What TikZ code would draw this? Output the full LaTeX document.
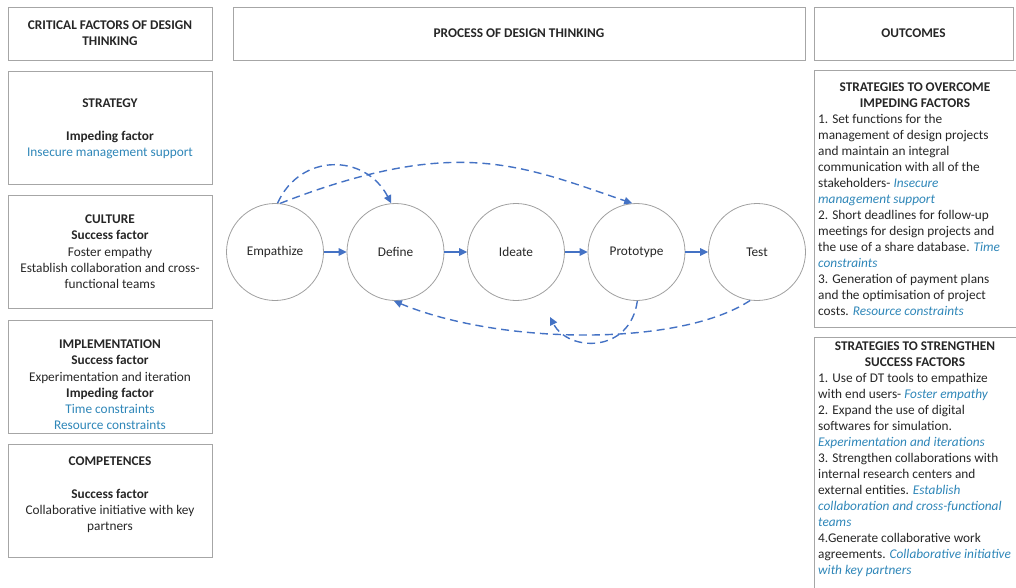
\documentclass[tikz,border=0pt]{standalone}
\usepackage{fontspec}
\setmainfont{Carlito}
\usetikzlibrary{arrows.meta}
\definecolor{txt}{HTML}{262626}
\definecolor{fac}{HTML}{2E86B8}
\definecolor{flow}{HTML}{4472C4}
\definecolor{frame}{HTML}{A6A6A6}
\definecolor{ring}{HTML}{A0A0A0}
\newcommand{\fac}[1]{\textcolor{fac}{#1}}
\newcommand{\facit}[1]{\textcolor{fac}{\itshape #1}}
% fixed-height strut so a node's top lies a known distance above its first baseline
\newcommand{\tp}{\rule{0pt}{11pt}}
\begin{document}
\begin{tikzpicture}[x=1pt,y=-1pt,
  panel/.style={draw=frame, line width=0.9pt, inner sep=0pt, anchor=north west},
  lbl/.style={font=\fontsize{13.3}{16.2}\selectfont, text=txt, inner sep=0pt, align=center, anchor=north},
  hdr/.style={lbl, font=\fontsize{13.3}{16.2}\selectfont\bfseries},
  body/.style={font=\fontsize{13.3}{16}\selectfont, text=txt, inner sep=0pt, align=left, anchor=north west},
  stage/.style={circle, draw=ring, line width=0.8pt, minimum size=97pt, inner sep=0pt,
                font=\fontsize{13.3}{15}\selectfont, text=txt},
  flowarrow/.style={draw=flow, line width=1.4pt, -{Triangle[length=8pt,width=7.5pt]}},
  loopback/.style={flowarrow, dash pattern=on 8pt off 5pt}]
\useasboundingbox (0,0) rectangle (1016,588);

% column headers
\node[panel, minimum width=204pt, minimum height=53pt] (hdrL) at (8,7) {};
\node[panel, minimum width=572pt, minimum height=53pt] (hdrC) at (233,7) {};
\node[panel, minimum width=199pt, minimum height=53pt] (hdrR) at (814,7) {};
\node[hdr] (tL) at (110,18.5) {\tp CRITICAL FACTORS OF DESIGN\\THINKING};
\node[hdr] (tC) at (519,26.5) {\tp PROCESS OF DESIGN THINKING};
\node[hdr] (tR) at (913.5,26.5) {\tp OUTCOMES};

% critical factors
\node[panel, minimum width=204pt, minimum height=113pt] (strat) at (8,71) {};
\node[panel, minimum width=204pt, minimum height=113pt] (cult) at (8,195) {};
\node[panel, minimum width=204pt, minimum height=113pt] (impl) at (8,320) {};
\node[panel, minimum width=204pt, minimum height=113pt] (comp) at (8,444) {};

\node[lbl] (stratT) at (110,96.5) {\tp\textbf{STRATEGY}\\[16.2pt]\textbf{Impeding factor}\\\fac{Insecure management support}};
\node[lbl] (cultT) at (110,212.5) {\tp\textbf{CULTURE}\\\textbf{Success factor}\\Foster empathy\\Establish collaboration and cross-\\functional teams};
\node[lbl] (implT) at (110,337.5) {\tp\textbf{IMPLEMENTATION}\\\textbf{Success factor}\\Experimentation and iteration\\\textbf{Impeding factor}\\\fac{Time constraints}\\\fac{Resource constraints}};
\node[lbl] (compT) at (110,454.5) {\tp\textbf{COMPETENCES}\\[16.2pt]\textbf{Success factor}\\Collaborative initiative with key\\partners};

% design thinking stages
\node[stage] (emp) at (275,252) {Empathize};
\node[stage] (def) at (395.5,252) {Define};
\node[stage] (ide) at (516,252) {Ideate};
\node[stage] (pro) at (636.5,252) {Prototype};
\node[stage] (tst) at (757,252) {Test};

\draw[flowarrow] (emp.east) -- (def.west);
\draw[flowarrow] (def.east) -- (ide.west);
\draw[flowarrow] (ide.east) -- (pro.west);
\draw[flowarrow] (pro.east) -- (tst.west);

% iteration loops
\draw[loopback] (emp.87) .. controls (300,153) and (365,153) .. (def.95);
\draw[loopback] (emp.84) .. controls (456,135) and (520,165) .. (pro.95);
\draw[loopback] (tst.262) .. controls (680,347) and (500,345) .. (def.268);
\coordinate (back) at (550,317);
\draw[loopback] (pro.271) .. controls (630,354) and (568,352) .. (back);

% outcomes
\draw[draw=frame, line width=0.9pt] (1016,70) -- (814,70) -- (814,327) -- (1016,327);
\node[hdr] (oc1T) at (915,80.5) {\tp STRATEGIES TO OVERCOME\\IMPEDING FACTORS};
\node[body] (oc1B) at (818,112.5) {\tp 1. Set functions for the\\management of design projects\\and maintain an integral\\communication with all of the\\stakeholders- \facit{Insecure}\\\facit{management support}\\2. Short deadlines for follow-up\\meetings for design projects and\\the use of a share database. \facit{Time}\\\facit{constraints}\\3. Generation of payment plans\\and the optimisation of project\\costs. \facit{Resource constraints}};

\draw[draw=frame, line width=0.9pt] (1016,337) -- (814,337) -- (814,588);
\node[hdr] (oc2T) at (915,339.5) {\tp STRATEGIES TO STRENGTHEN\\SUCCESS FACTORS};
\node[body] (oc2B) at (818,371.5) {\tp 1. Use of DT tools to empathize\\with end users- \facit{Foster empathy}\\2. Expand the use of digital\\softwares for simulation.\\\facit{Experimentation and iterations}\\3. Strengthen collaborations with\\internal research centers and\\external entities. \facit{Establish}\\\facit{collaboration and cross-functional}\\\facit{teams}\\4.Generate collaborative work\\agreements. \facit{Collaborative initiative}\\\facit{with key partners}};
\end{tikzpicture}
\end{document}
